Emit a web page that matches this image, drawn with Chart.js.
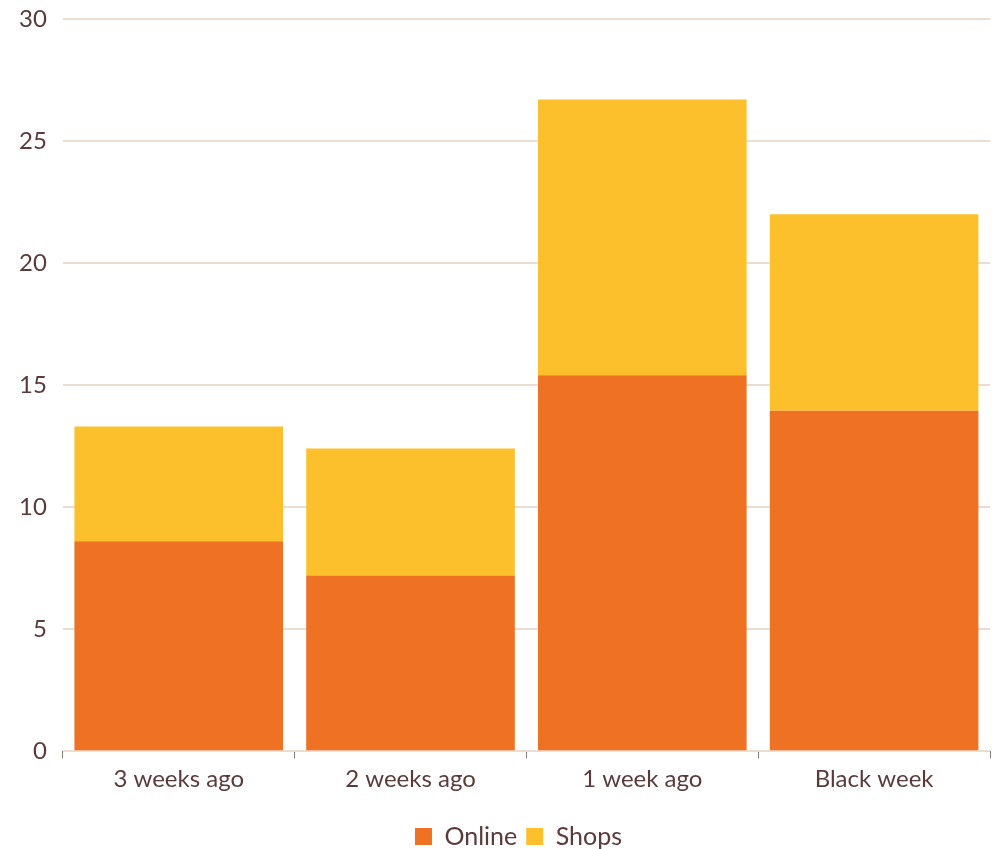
<!DOCTYPE html>
<html>
<head>
<meta charset="utf-8">
<script src="https://cdn.jsdelivr.net/npm/chart.js@4"></script>
<style>
html,body{margin:0;padding:0;background:#fff;}
#wrap{width:995px;height:849px;position:relative;}
</style>
</head>
<body>
<div id="wrap"><canvas id="c"></canvas></div>
<script>
const categories = ["3 weeks ago", "2 weeks ago", "1 week ago", "Black week"];
const onlineValues = [8.6, 7.2, 15.4, 13.95];
const shopsValues = [4.7, 5.2, 11.3, 8.05];
const yTicks = [0, 5, 10, 15, 20, 25, 30];

const textColor = "#5b3a3a";
const fontFamily = "Lato, 'Open Sans', sans-serif";

const legendShift = {
  id: "legendShift",
  afterLayout(chart) {
    if (chart.legend) { chart.legend.left += 22; chart.legend.right += 22; }
  }
};

new Chart(document.getElementById("c"), {
  type: "bar",
  data: {
    labels: categories,
    datasets: [
      { label: "Online", data: onlineValues, backgroundColor: "#EE7124", borderWidth: 0 },
      { label: "Shops", data: shopsValues, backgroundColor: "#FCC02C", borderWidth: 0 }
    ]
  },
  plugins: [legendShift],
  options: {
    responsive: true,
    maintainAspectRatio: false,
    animation: false,
    layout: { padding: { top: 19, right: 5, left: 3, bottom: -10 } },
    datasets: { bar: { barPercentage: 0.9, categoryPercentage: 1.0 } },
    plugins: {
      legend: {
        position: "bottom",
        labels: {
          color: textColor,
          font: { family: fontFamily, size: 25 },
          boxWidth: 17, boxHeight: 17, padding: 9
        }
      },
      tooltip: { enabled: false }
    },
    scales: {
      x: {
        stacked: true,
        offset: true,
        border: { display: false },
        grid: { display: true, drawOnChartArea: false, drawTicks: true, tickLength: 7, color: "#8a7a78", offset: true },
        ticks: { color: textColor, font: { family: fontFamily, size: 24 }, padding: 7, maxRotation: 0 },
        afterFit: (scale) => { scale.height += 14; }
      },
      y: {
        stacked: true,
        min: 0, max: 30,
        afterBuildTicks: (axis) => { axis.ticks = yTicks.map(v => ({ value: v })); },
        afterFit: (scale) => { scale.paddingTop = 0; },
        border: { display: false },
        grid: { color: "#ebddd2", lineWidth: 2, drawTicks: false },
        ticks: { color: textColor, font: { family: fontFamily, size: 24 }, padding: 16 }
      }
    }
  }
});
</script>
</body>
</html>
